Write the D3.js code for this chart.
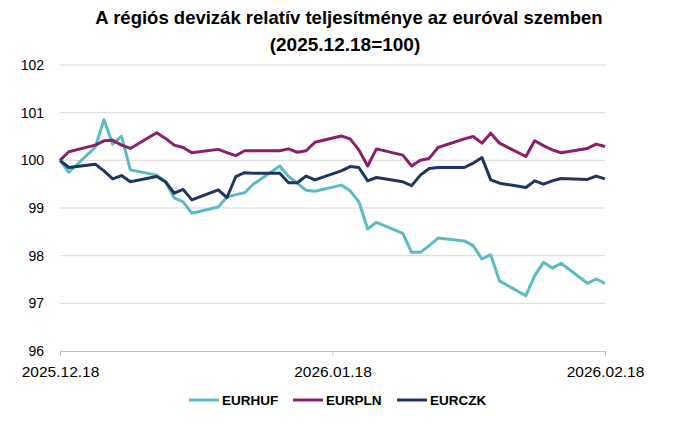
<!DOCTYPE html>
<html>
<head>
<meta charset="utf-8">
<script src="https://cdn.jsdelivr.net/npm/d3@7"></script>
<style>
  body { margin: 0; background: #fff; }
  text { font-family: "Liberation Sans", Arial, sans-serif; }
</style>
</head>
<body>
<div id="chart"></div>
<script>
// business days, 2025.12.18 - 2026.02.18
const dates = [
  "2025-12-18","2025-12-19","2025-12-22","2025-12-23","2025-12-24","2025-12-25","2025-12-26",
  "2025-12-29","2025-12-30","2025-12-31","2026-01-01","2026-01-02",
  "2026-01-05","2026-01-06","2026-01-07","2026-01-08","2026-01-09",
  "2026-01-12","2026-01-13","2026-01-14","2026-01-15","2026-01-16",
  "2026-01-19","2026-01-20","2026-01-21","2026-01-22","2026-01-23",
  "2026-01-26","2026-01-27","2026-01-28","2026-01-29","2026-01-30",
  "2026-02-02","2026-02-03","2026-02-04","2026-02-05","2026-02-06",
  "2026-02-09","2026-02-10","2026-02-11","2026-02-12","2026-02-13",
  "2026-02-16","2026-02-17","2026-02-18"
];
const eurhuf = [
  100, 99.75, 100.27, 100.85, 100.34, 100.51, 99.80,
  99.69, 99.55, 99.21, 99.13, 98.89,
  99.02, 99.23, 99.28, 99.32, 99.50,
  99.88, 99.66, 99.52, 99.37, 99.35,
  99.48, 99.36, 99.13, 98.56, 98.70,
  98.47, 98.07, 98.07, 98.21, 98.37,
  98.31, 98.21, 97.93, 98.02, 97.47,
  97.16, 97.58, 97.86, 97.74, 97.84,
  97.42, 97.51, 97.42
];
const eurpln = [
  100, 100.18, 100.32, 100.41, 100.42, 100.32, 100.25,
  100.58, 100.46, 100.32, 100.27, 100.16,
  100.23, 100.16, 100.10, 100.20, 100.20,
  100.20, 100.24, 100.17, 100.20, 100.38,
  100.51, 100.45, 100.22, 99.88, 100.24,
  100.11, 99.88, 100.00, 100.04, 100.27,
  100.45, 100.50, 100.36, 100.57, 100.36,
  100.08, 100.41, 100.31, 100.22, 100.16,
  100.25, 100.34, 100.29
];
const eurczk = [
  100, 99.85, 99.92, 99.78, 99.61, 99.68, 99.55,
  99.66, 99.55, 99.31, 99.39, 99.17,
  99.38, 99.22, 99.66, 99.74, 99.73,
  99.73, 99.53, 99.53, 99.67, 99.59,
  99.78, 99.87, 99.85, 99.57, 99.64,
  99.55, 99.47, 99.69, 99.83, 99.85,
  99.85, 99.94, 100.06, 99.59, 99.52,
  99.43, 99.57, 99.50, 99.57, 99.62,
  99.60, 99.67, 99.61
];
const seriesNames = ["EURHUF", "EURPLN", "EURCZK"];
const seriesColors = ["#5bbcc4", "#8c1f6a", "#1f3563"];
const yTicks = [96, 97, 98, 99, 100, 101, 102];
const xTickLabels = ["2025.12.18", "2026.01.18", "2026.02.18"];

const width = 696, height = 424;
const margin = {top: 65, right: 91, bottom: 73, left: 60};

const parse = d3.timeParse("%Y-%m-%d");
const fmt = d3.timeFormat("%Y.%m.%d");
const parseLabel = d3.timeParse("%Y.%m.%d");

let svg = d3.select("#chart").append("svg")
    .attr("width", width)
    .attr("height", height);

let x = d3.scaleTime()
    .domain([parse(dates[0]), parse(dates[dates.length - 1])])
    .range([margin.left, width - margin.right]);

let y = d3.scaleLinear()
    .domain([96, 102])
    .range([height - margin.bottom, margin.top]);

// title
svg.append("text")
    .attr("x", 349).attr("y", 24)
    .attr("text-anchor", "middle")
    .style("font-size", "18.5px").style("font-weight", "bold")
    .text("A régiós devizák relatív teljesítménye az euróval szemben");
svg.append("text")
    .attr("x", 345).attr("y", 51)
    .attr("text-anchor", "middle")
    .style("font-size", "19px").style("font-weight", "bold")
    .text("(2025.12.18=100)");

// gridlines
svg.append("g")
    .selectAll("line")
    .data(yTicks.filter(d => d > 96))
    .join("line")
    .attr("x1", margin.left).attr("x2", width - margin.right)
    .attr("y1", d => y(d)).attr("y2", d => y(d))
    .attr("stroke", "#d9d9d9").attr("stroke-width", 1);

// y axis
let yAxis = svg.append("g")
    .attr("transform", `translate(${margin.left},0)`)
    .call(d3.axisLeft(y).tickValues(yTicks).tickFormat(d3.format("d")).tickSize(0).tickPadding(16));
yAxis.select(".domain").remove();
yAxis.selectAll("text")
    .style("font-size", "14px").attr("fill", "#000");

// x axis
let xAxis = svg.append("g")
    .attr("transform", `translate(0,${height - margin.bottom})`)
    .call(d3.axisBottom(x)
        .tickValues(xTickLabels.map(parseLabel))
        .tickFormat(fmt)
        .tickSizeInner(5).tickSizeOuter(0).tickPadding(10));
xAxis.select(".domain").attr("stroke", "#bfbfbf");
xAxis.selectAll(".tick line").attr("stroke", "#bfbfbf");
xAxis.selectAll("text")
    .style("font-size", "15.5px").attr("fill", "#000");

// lines
const allSeries = [eurhuf, eurpln, eurczk];
let line = d3.line()
    .x((d, i) => x(parse(dates[i])))
    .y(d => y(d));

svg.append("g")
    .selectAll("path")
    .data(allSeries)
    .join("path")
    .attr("fill", "none")
    .attr("stroke", (d, i) => seriesColors[i])
    .attr("stroke-width", 3)
    .attr("stroke-linejoin", "round")
    .attr("d", line);

// legend
const legendX = [189, 293, 397];
let legend = svg.append("g")
    .selectAll("g")
    .data(seriesNames)
    .join("g")
    .attr("transform", (d, i) => `translate(${legendX[i]},400)`);
legend.append("line")
    .attr("x1", 0).attr("x2", 30)
    .attr("stroke", (d, i) => seriesColors[i])
    .attr("stroke-width", 3);
legend.append("text")
    .attr("x", 33).attr("y", 5)
    .style("font-size", "13.5px").style("font-weight", "bold")
    .text(d => d);
</script>
</body>
</html>
